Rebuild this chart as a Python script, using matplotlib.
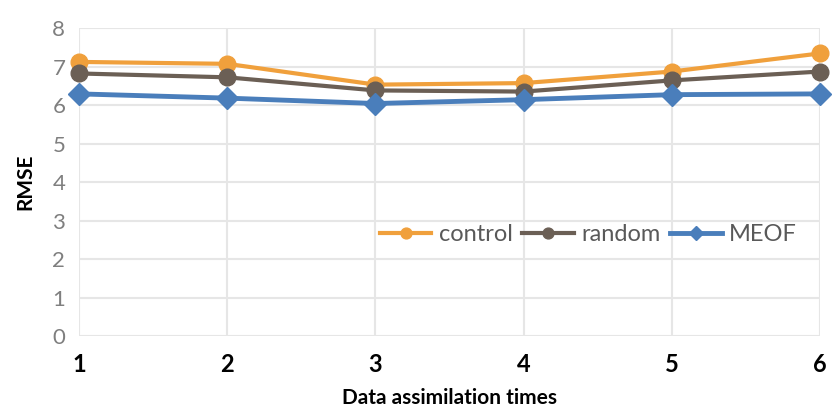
import matplotlib.pyplot as plt

# assimilation step and RMSE per experiment
times = [1, 2, 3, 4, 5, 6]
control = [7.12, 7.07, 6.53, 6.57, 6.87, 7.34]
random_ = [6.82, 6.72, 6.38, 6.35, 6.64, 6.87]
meof = [6.29, 6.18, 6.04, 6.14, 6.27, 6.29]

plt.rcParams['font.family'] = ['Lato', 'DejaVu Sans']

fig = plt.figure(figsize=(8.34, 4.12), dpi=100)
ax = fig.add_axes([0.095, 0.184, 0.888, 0.748])

ax.plot(times, control, color='#f0a03c', lw=3, marker='o', ms=12, label='control', clip_on=False, zorder=3)
ax.plot(times, random_, color='#6b5f55', lw=3, marker='o', ms=12, label='random', clip_on=False, zorder=4)
ax.plot(times, meof, color='#4a7ebb', lw=3.5, marker='D', ms=11, label='MEOF', clip_on=False, zorder=5)

ax.set_xlim(1, 6)
ax.set_ylim(0, 8)
ax.set_xticks(times)
ax.set_yticks(range(0, 9))
ax.grid(True, color='#e6e6e6', lw=1.5)
ax.set_axisbelow(True)
for s in ax.spines.values():
    s.set_visible(False)
ax.tick_params(length=0)
ax.tick_params(axis='y', labelsize=16, labelcolor='#7f7f7f', pad=10)
ax.tick_params(axis='x', labelsize=17, labelcolor='black', pad=12)
for t in ax.get_xticklabels():
    t.set_fontweight('bold')

ax.set_xlabel('Data assimilation times', fontsize=15, fontweight='bold', labelpad=9)
ax.set_ylabel('RMSE', fontsize=15, fontweight='bold', labelpad=12)

ax.legend(loc='center', bbox_to_anchor=(0.687, 0.33), ncol=3, frameon=False,
          fontsize=17, labelcolor='#595959', handlelength=2.2, handletextpad=0.3,
          columnspacing=0.4, markerscale=0.65)

fig.savefig('out.png', dpi=100)
